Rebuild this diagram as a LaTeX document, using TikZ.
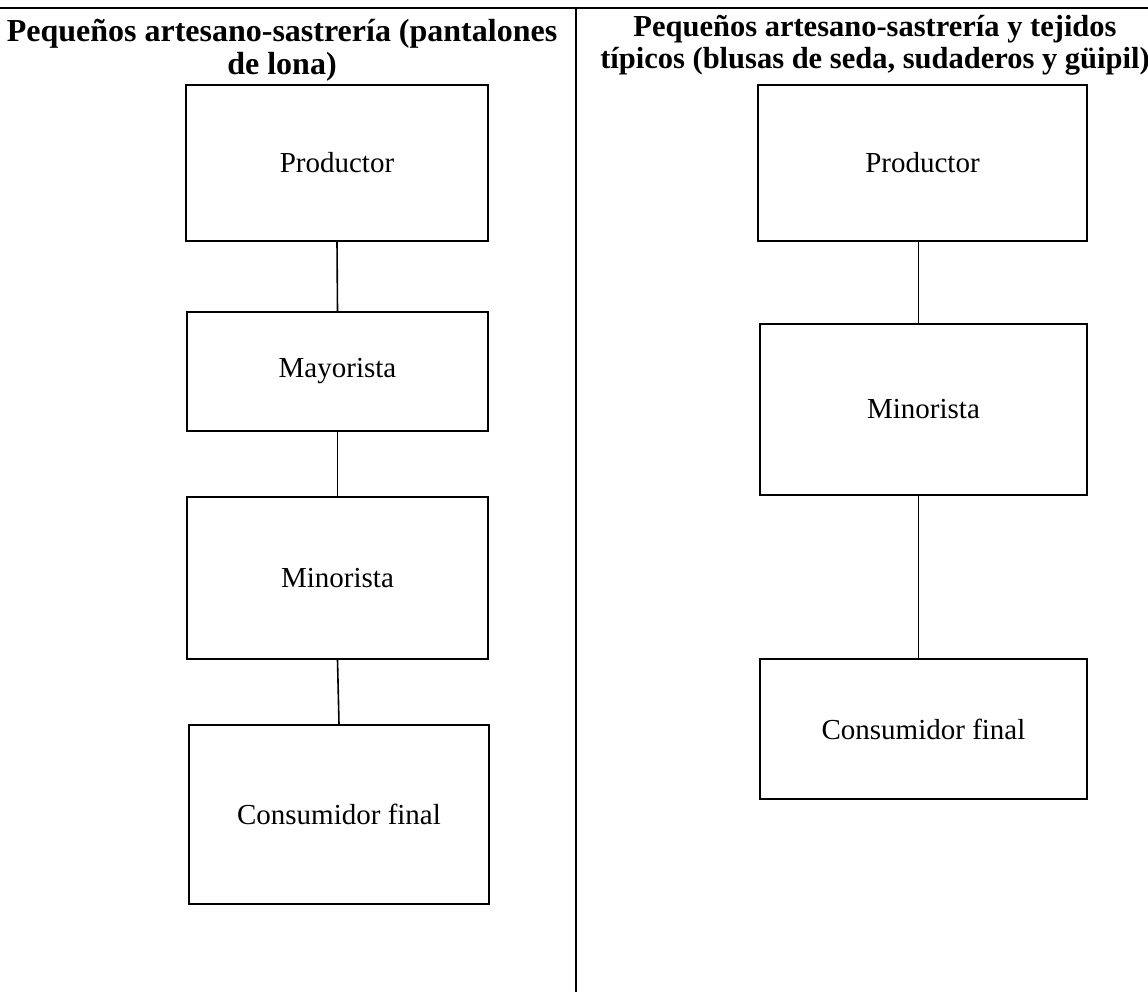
\documentclass[tikz,border=0pt]{standalone}
\usepackage{fontspec}
\setmainfont{Liberation Serif}
\begin{document}
\begin{tikzpicture}[x=1pt,y=-1pt,
  chainbox/.style={draw, line width=1.6pt, inner sep=0pt, font=\fontsize{29}{34}\selectfont},
  link/.style={line width=1.6pt},
  rule/.style={line width=1.4pt},
  divider/.style={line width=2.2pt},
  header/.style={align=center, inner sep=0pt, font=\fontsize{30.5}{32}\selectfont\bfseries},
  bigheader/.style={align=center, inner sep=0pt, font=\fontsize{32}{33}\selectfont\bfseries}]
\useasboundingbox (0,0) rectangle (1148,992);
% frame lines
\coordinate (tl) at (0,8);
\coordinate (tr) at (1148,8);
\coordinate (dt) at (576,8);
\coordinate (db) at (576,992);
\draw[rule] (tl) -- (tr);
\draw[divider] (dt) -- (db);
% headers
\node[bigheader] (h1) at (282,50) {Pequeños artesano-sastrería (pantalones\\de lona)};
\node[header] (h2) at (875,45) {Pequeños artesano-sastrería y tejidos\\típicos (blusas de seda, sudaderos y güipil)};
% left chain
\node[chainbox, minimum width=302pt, minimum height=156pt] (p1) at (337,163) {Productor};
\node[chainbox, minimum width=301pt, minimum height=119pt] (m1) at (337.5,371.5) {Mayorista};
\node[chainbox, minimum width=301pt, minimum height=162pt] (n1) at (337.5,578) {Minorista};
\node[chainbox, minimum width=300pt, minimum height=179pt] (c1) at (339,814.5) {Consumidor final};
\draw[link] (p1.south) -- (m1.north);
\draw[link] (m1.south) -- (n1.north);
\draw[link] (n1.south) -- (c1.north);
% right chain
\node[chainbox, minimum width=329pt, minimum height=156pt] (p2) at (922.5,163) {Productor};
\node[chainbox, minimum width=327pt, minimum height=171pt] (n2) at (923.5,409.5) {Minorista};
\node[chainbox, minimum width=327pt, minimum height=140pt] (c2) at (923.5,729) {Consumidor final};
\draw[link] ([xshift=-4pt]p2.south) -- ([xshift=-5pt]n2.north);
\draw[link] ([xshift=-5pt]n2.south) -- ([xshift=-5pt]c2.north);
\end{tikzpicture}
\end{document}
